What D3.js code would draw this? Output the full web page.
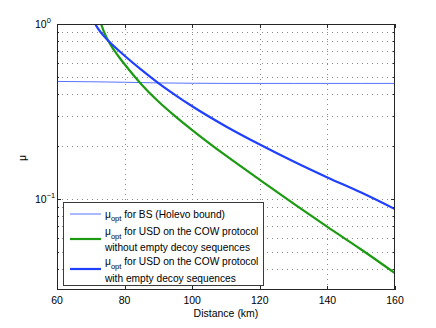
<!DOCTYPE html>
<html>
<head>
<meta charset="utf-8">
<script src="https://cdn.jsdelivr.net/npm/d3@7"></script>
<style>
  body { margin: 0; background: #fff; }
  svg text { font-family: "Liberation Sans", Arial, sans-serif; fill: #000; }
</style>
</head>
<body>
<svg id="chart" width="436" height="328"></svg>
<script>
// distances in km
const distBS = [60, 70, 80, 90, 100, 110, 120, 130, 140, 150, 160];
const muBS = [0.470, 0.468, 0.465, 0.461, 0.459, 0.458, 0.458, 0.458, 0.458, 0.458, 0.458];

const distUSD = [70, 72, 74, 76, 78, 80, 85, 90, 95, 100, 110, 120, 130, 140, 150, 160];
// without empty decoy sequences (green)
const muNoDecoy = [1.60, 1.16, 0.891, 0.752, 0.661, 0.589, 0.452, 0.361, 0.297, 0.248, 0.177, 0.129, 0.0942, 0.0695, 0.0516, 0.0378];
// with empty decoy sequences (blue)
const muDecoy = [1.109, 0.951, 0.847, 0.774, 0.713, 0.659, 0.547, 0.460, 0.393, 0.339, 0.260, 0.205, 0.164, 0.133, 0.109, 0.0877];

const xTicks = [60, 80, 100, 120, 140, 160];
const yMajor = [0.1, 1];
const yMinor = [0.04, 0.05, 0.06, 0.07, 0.08, 0.09, 0.2, 0.3, 0.4, 0.5, 0.6, 0.7, 0.8, 0.9];
const yLabels = [{v: 1, exp: "0"}, {v: 0.1, exp: "\u22121"}];

const PLOT = {left: 57, right: 395, top: 24, bottom: 290};
const COLORS = {bs: "#5a72ff", green: "#1c9a12", blue: "#2040ff"};

const svg = d3.select("#chart");
const x = d3.scaleLinear().domain([60, 160]).range([PLOT.left, PLOT.right]);
const y = d3.scaleLog().domain([0.0303, 1]).range([PLOT.bottom, PLOT.top]);

svg.append("defs").append("clipPath").attr("id", "clip")
  .append("rect")
  .attr("x", PLOT.left).attr("y", PLOT.top)
  .attr("width", PLOT.right - PLOT.left).attr("height", PLOT.bottom - PLOT.top);

// grid
const grid = svg.append("g").attr("stroke", "#8a8a8a").attr("stroke-width", 1)
  .attr("stroke-dasharray", "1,4");
grid.selectAll("line.gx").data(xTicks.slice(1, -1)).enter().append("line")
  .attr("x1", d => Math.round(x(d)) + 0.5).attr("x2", d => Math.round(x(d)) + 0.5)
  .attr("y1", PLOT.top).attr("y2", PLOT.bottom);
grid.selectAll("line.gy").data(yMinor.concat([0.1])).enter().append("line")
  .attr("y1", d => Math.round(y(d)) + 0.5).attr("y2", d => Math.round(y(d)) + 0.5)
  .attr("x1", PLOT.left).attr("x2", PLOT.right);

// curves
const lineGen = (dists) => d3.line()
  .x((d, i) => x(dists[i]))
  .y(d => y(d))
  .curve(d3.curveMonotoneX);

const curves = svg.append("g").attr("clip-path", "url(#clip)").attr("fill", "none");
curves.append("path").attr("d", lineGen(distBS)(muBS))
  .attr("stroke", COLORS.bs).attr("stroke-width", 1);
curves.append("path").attr("d", lineGen(distUSD)(muNoDecoy))
  .attr("stroke", COLORS.green).attr("stroke-width", 2.2);
curves.append("path").attr("d", lineGen(distUSD)(muDecoy))
  .attr("stroke", COLORS.blue).attr("stroke-width", 2.2);

// axes box
svg.append("rect")
  .attr("x", PLOT.left + 0.5).attr("y", PLOT.top + 0.5)
  .attr("width", PLOT.right - PLOT.left - 1).attr("height", PLOT.bottom - PLOT.top - 1)
  .attr("fill", "none").attr("stroke", "#262626").attr("stroke-width", 1);

// ticks, inward
const ticks = svg.append("g").attr("stroke", "#262626").attr("stroke-width", 1);
xTicks.forEach(t => {
  const px = Math.round(x(t)) + 0.5;
  ticks.append("line").attr("x1", px).attr("x2", px).attr("y1", PLOT.bottom).attr("y2", PLOT.bottom - 4);
  ticks.append("line").attr("x1", px).attr("x2", px).attr("y1", PLOT.top).attr("y2", PLOT.top + 4);
});
yMajor.concat(yMinor).forEach(t => {
  const py = Math.round(y(t)) + 0.5;
  const len = yMajor.includes(t) ? 4 : 2;
  ticks.append("line").attr("x1", PLOT.left).attr("x2", PLOT.left + len).attr("y1", py).attr("y2", py);
  ticks.append("line").attr("x1", PLOT.right).attr("x2", PLOT.right - len).attr("y1", py).attr("y2", py);
});

// tick labels
svg.append("g").selectAll("text").data(xTicks).enter().append("text")
  .attr("x", d => x(d)).attr("y", 303.5)
  .attr("text-anchor", "middle").attr("font-size", 10.5)
  .text(d => d);

const yl = svg.append("g").selectAll("text").data(yLabels).enter().append("text")
  .attr("x", 35).attr("y", d => y(d.v) + 4)
  .attr("font-size", 10.5);
yl.append("tspan").text("10");
yl.append("tspan").attr("dy", -5).attr("font-size", 7.5).text(d => d.exp);

// axis titles
svg.append("text").attr("x", (PLOT.left + PLOT.right) / 2).attr("y", 316.5)
  .attr("text-anchor", "middle").attr("font-size", 10.5).text("Distance (km)");
svg.append("text").attr("transform", "translate(26,158) rotate(-90)")
  .attr("text-anchor", "middle").attr("font-size", 10.5).text("\u03bc");

// legend
const legendRows = [
  {color: COLORS.bs, width: 1, ly: 214, lines: ["for BS (Holevo bound)"], ty: [217.5]},
  {color: COLORS.green, width: 2.2, ly: 239, lines: ["for USD on the COW protocol", "without empty decoy sequences"], ty: [235, 251]},
  {color: COLORS.blue, width: 2.2, ly: 269, lines: ["for USD on the COW protocol", "with empty decoy sequences"], ty: [265, 281.5]}
];
const legend = svg.append("g");
legend.append("rect").attr("x", 63.5).attr("y", 202.5).attr("width", 200).attr("height", 83)
  .attr("fill", "#fff").attr("stroke", "#3a3a3a").attr("stroke-width", 1);
legendRows.forEach(r => {
  legend.append("line").attr("x1", 70).attr("x2", 101).attr("y1", r.ly).attr("y2", r.ly)
    .attr("stroke", r.color).attr("stroke-width", r.width);
  const t1 = legend.append("text").attr("x", 105).attr("y", r.ty[0]).attr("font-size", 10.2);
  t1.append("tspan").text("\u03bc");
  t1.append("tspan").attr("dy", 3.5).attr("font-size", 7.5).text("opt");
  t1.append("tspan").attr("dy", -3.5).text(" " + r.lines[0]);
  if (r.lines[1]) {
    legend.append("text").attr("x", 105).attr("y", r.ty[1]).attr("font-size", 10.2).text(r.lines[1]);
  }
});
</script>
</body>
</html>
